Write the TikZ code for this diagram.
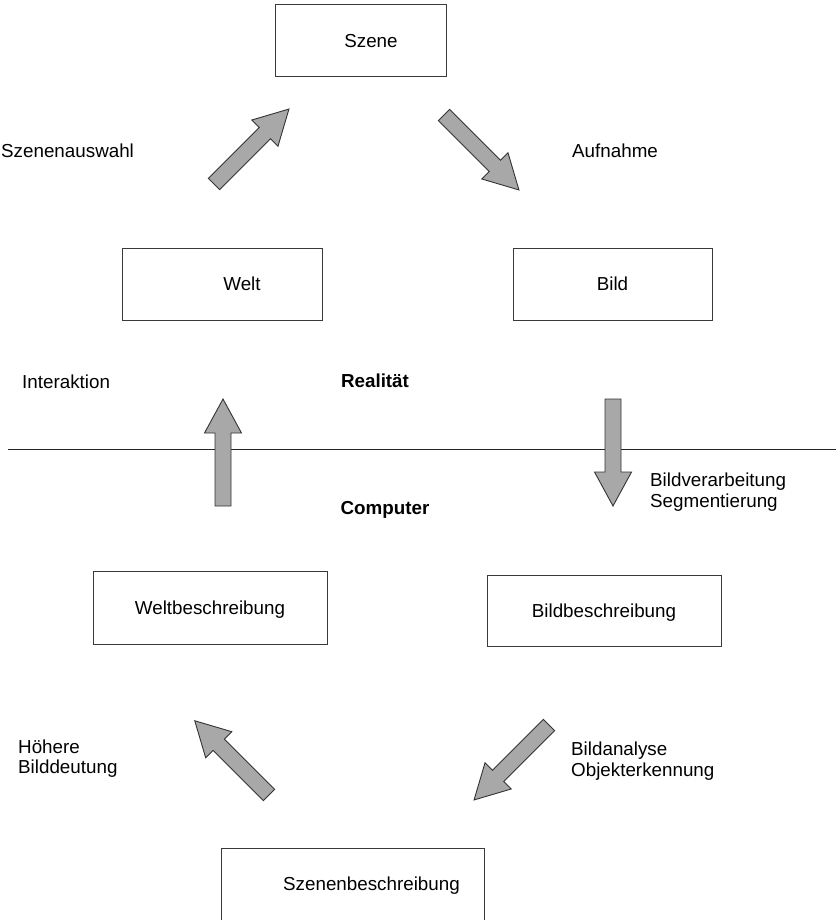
\documentclass[tikz,border=0pt]{standalone}
\usepackage{fontspec}
\setmainfont{Liberation Sans}
\definecolor{boxc}{HTML}{3A3A3A}
\definecolor{arrc}{HTML}{333333}
\definecolor{arrf}{HTML}{A8A8A8}
% block arrow: tail x, tail y, angle, length
\newcommand\barrow[4]{%
  \begin{scope}[shift={(#1,#2)}, rotate=#3]
    \draw[blk] (0,-8) -- (#4-34,-8) -- (#4-34,-18.5) -- (#4,0) -- (#4-34,18.5) -- (#4-34,8) -- (0,8) -- cycle;
  \end{scope}}
\begin{document}
\begin{tikzpicture}[x=1pt,y=-1pt,
  font=\fontsize{18.8}{20.5}\selectfont,
  box/.style={draw=boxc, line width=1pt, inner sep=0pt},
  btxt/.style={inner sep=0pt, text height=14pt, text depth=0.5pt},
  lbl/.style={inner sep=0pt, anchor=base west, align=left},
  blk/.style={draw=arrc, fill=arrf, line width=0.9pt, line join=miter}]
\useasboundingbox (0,0) rectangle (836,920);
\clip (0,0) rectangle (836,920);

% boxes
\node[box, minimum width=171pt, minimum height=72pt] (szene) at (360.5,41) {};
\node[btxt] (tszene) at ([xshift=10.5pt]szene.center) {Szene};
\node[box, minimum width=200pt, minimum height=72pt] (welt) at (222,284) {};
\node[btxt] (twelt) at ([xshift=20pt]welt.center) {Welt};
\node[box, minimum width=199pt, minimum height=72pt] (bild) at (612.5,284) {};
\node[btxt] (tbild) at (bild.center) {Bild};
\node[box, minimum width=234pt, minimum height=73pt] (weltb) at (210,607.5) {};
\node[btxt] (tweltb) at (weltb.center) {Weltbeschreibung};
\node[box, minimum width=234pt, minimum height=71pt] (bildb) at (604,610.5) {};
\node[btxt] (tbildb) at (bildb.center) {Bildbeschreibung};
\node[box, minimum width=263pt, minimum height=76pt] (szeneb) at (352.5,886) {};
\node[btxt] (tszeneb) at (371.5,884) {Szenenbeschreibung};

% separating line
\coordinate (lineL) at (8,449);
\coordinate (lineR) at (836,449);
\draw[line width=1pt, draw=black!85] (lineL) -- (lineR);

% block arrows
\barrow{214}{184}{45}{106}
\barrow{444}{115}{-45}{106}
\barrow{223}{506}{90}{107}
\barrow{613}{399}{-90}{107}
\barrow{269}{795}{135}{105}
\barrow{549}{725}{-135}{106}

% labels
\node[lbl] (lszw) at (1,158) {Szenenauswahl};
\node[lbl] (lauf) at (572,158) {Aufnahme};
\node[lbl] (lint) at (22,388) {Interaktion};
\node[inner sep=0pt, anchor=base] (lreal) at (375,387) {\textbf{Realität}};
\node[inner sep=0pt, anchor=base] (lcomp) at (385,514) {\textbf{Computer}};
\node[lbl] (lbv) at (650,507) {Bildverarbeitung\\Segmentierung};
\node[lbl] (lhb) at (18,773.5) {Höhere\\Bilddeutung};
\node[lbl] (lba) at (571,776) {Bildanalyse\\Objekterkennung};
\end{tikzpicture}
\end{document}
